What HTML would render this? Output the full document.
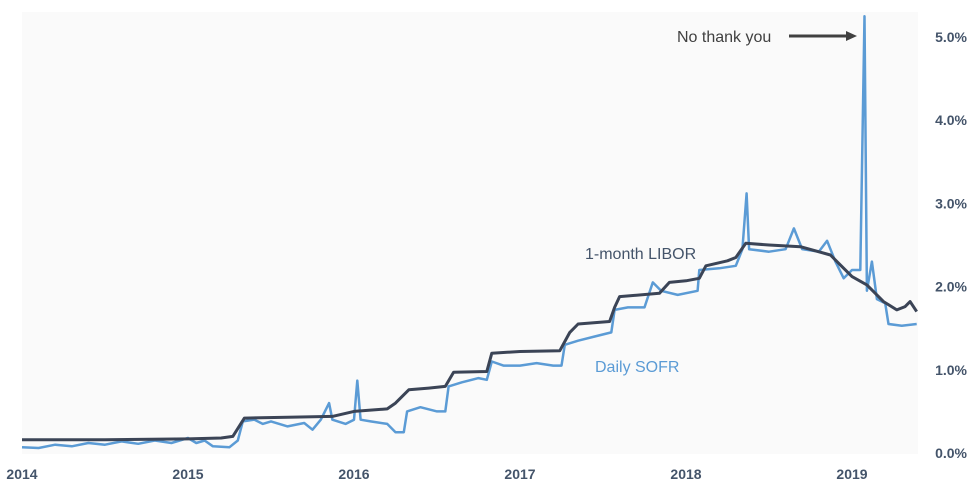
<!DOCTYPE html>
<html><head><meta charset="utf-8"><style>
body{margin:0;background:#fff;width:975px;height:485px;overflow:hidden;font-family:"Liberation Sans",sans-serif}
svg text{font-family:"Liberation Sans",sans-serif}
</style></head><body>
<svg id="chart" width="975" height="485" viewBox="0 0 975 485">
<rect x="22" y="12" width="896" height="442" fill="#fafafa"/>
<g id="xticks"></g><g id="yticks"></g><g id="lines"></g>
<text x="585" y="259" font-size="16" fill="#44546a">1-month LIBOR</text>
<text x="595" y="372" font-size="16" fill="#5b9bd5">Daily SOFR</text>
<text x="677" y="42" font-size="16" fill="#404040">No thank you</text>
<line x1="789" y1="36" x2="848" y2="36" stroke="#404040" stroke-width="3"/>
<polygon points="846,31 857,36 846,41" fill="#404040"/>
</svg>
<script>
const xTickLabels=["2014","2015","2016","2017","2018","2019"];
const yTickValues=[0,1,2,3,4,5];
const liborT=[0,0.5,1.0,1.2,1.27,1.34,1.6,1.87,2.0,2.2,2.25,2.33,2.45,2.55,2.6,2.8,2.83,3.0,3.24,3.3,3.35,3.54,3.57,3.6,3.84,3.9,4.0,4.08,4.12,4.25,4.3,4.36,4.5,4.69,4.87,4.92,5.0,5.09,5.19,5.27,5.32,5.35,5.39];
const liborV=[0.16,0.16,0.17,0.18,0.2,0.42,0.43,0.44,0.5,0.53,0.6,0.76,0.78,0.8,0.97,0.98,1.2,1.22,1.23,1.45,1.55,1.58,1.75,1.88,1.92,2.05,2.07,2.1,2.25,2.31,2.35,2.52,2.5,2.48,2.38,2.28,2.12,2.02,1.82,1.72,1.76,1.82,1.7];
const sofrT=[0,0.1,0.2,0.3,0.4,0.5,0.6,0.7,0.8,0.9,1.0,1.05,1.1,1.15,1.25,1.3,1.33,1.4,1.45,1.5,1.6,1.7,1.75,1.8,1.85,1.87,1.95,2.0,2.02,2.04,2.1,2.2,2.25,2.3,2.32,2.4,2.5,2.55,2.57,2.65,2.75,2.8,2.83,2.9,3.0,3.1,3.2,3.25,3.27,3.35,3.45,3.55,3.57,3.65,3.75,3.8,3.85,3.95,4.07,4.08,4.2,4.3,4.34,4.365,4.38,4.5,4.6,4.65,4.7,4.8,4.85,4.9,4.95,5.0,5.05,5.075,5.09,5.12,5.15,5.2,5.22,5.3,5.39];
const sofrV=[0.07,0.06,0.1,0.08,0.12,0.1,0.14,0.11,0.15,0.12,0.18,0.12,0.15,0.08,0.07,0.15,0.38,0.4,0.35,0.38,0.32,0.36,0.28,0.4,0.6,0.4,0.35,0.4,0.87,0.4,0.38,0.35,0.25,0.25,0.5,0.55,0.5,0.5,0.8,0.85,0.9,0.88,1.1,1.05,1.05,1.08,1.05,1.05,1.3,1.35,1.4,1.45,1.72,1.75,1.75,2.05,1.95,1.9,1.95,2.2,2.22,2.25,2.45,3.12,2.45,2.42,2.45,2.7,2.45,2.42,2.55,2.3,2.1,2.2,2.2,5.25,1.95,2.3,1.85,1.8,1.55,1.53,1.55];
const NS="http://www.w3.org/2000/svg";
const xS=t=>22+t*166, yS=v=>453-v*83.2;
const xt=document.getElementById('xticks'),yt=document.getElementById('yticks'),ln=document.getElementById('lines');
xTickLabels.forEach((l,i)=>{const t=document.createElementNS(NS,'text');


t.setAttribute('x',xS(i));t.setAttribute('y',479);t.setAttribute('text-anchor','middle');t.setAttribute('font-size','14');t.setAttribute('font-weight','bold');t.setAttribute('fill','#44546a');t.textContent=l;xt.appendChild(t);});
yTickValues.forEach(v=>{const t=document.createElementNS(NS,'text');


t.setAttribute('x',967);t.setAttribute('y',yS(v)+5);t.setAttribute('text-anchor','end');t.setAttribute('font-size','14');t.setAttribute('font-weight','bold');t.setAttribute('fill','#44546a');t.textContent=v.toFixed(1)+'%';yt.appendChild(t);});
function line(T,V,c,w,name){const p=document.createElementNS(NS,'polyline');


p.setAttribute('points',T.map((t,i)=>xS(t).toFixed(1)+','+yS(V[i]).toFixed(1)).join(' '));p.setAttribute('fill','none');p.setAttribute('stroke',c);p.setAttribute('stroke-width',w);p.setAttribute('stroke-linejoin','round');ln.appendChild(p);}
line(sofrT,sofrV,'#5b9bd5',2.5,'sofr-line');
line(liborT,liborV,'#3b4456',3,'libor-line');
</script>
</body></html>
